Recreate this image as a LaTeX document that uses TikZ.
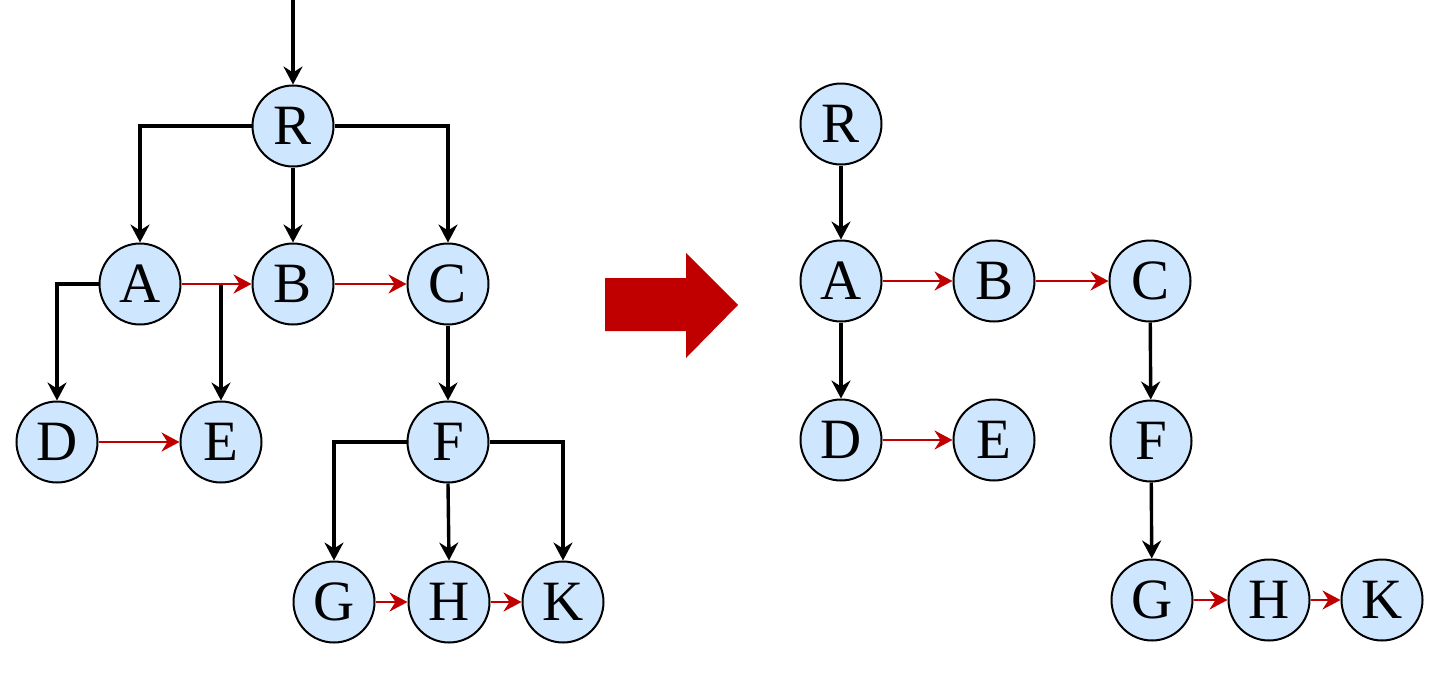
\documentclass[tikz,border=0pt]{standalone}
\usepackage{fontspec}
\setmainfont{Liberation Serif}
\usetikzlibrary{arrows.meta}
\definecolor{nodefill}{RGB}{207,230,255}
\definecolor{linkred}{RGB}{192,0,0}
\tikzset{
  vertex/.style={circle, draw=black, line width=2pt, fill=nodefill,
    minimum size=81pt, inner sep=0pt, font=\fontsize{57}{57}\selectfont},
  child/.style={draw=black, line width=3.4pt,
    -{Stealth[length=18pt, width=19pt, inset=6pt]}},
  sibling/.style={draw=linkred, line width=2.8pt,
    -{Stealth[length=18pt, width=19pt, inset=6pt]}},
  bigarrow/.style={fill=linkred, draw=none}
}
\begin{document}
\begin{tikzpicture}[x=1pt, y=-1pt]
  \useasboundingbox (0,0) rectangle (1438,673);

  % first-child / next-sibling source tree
  \node[vertex] (R)  at (293,126) {R};
  \node[vertex] (A)  at (140,284) {A};
  \node[vertex] (B)  at (293,284) {B};
  \node[vertex] (C)  at (448,284) {C};
  \node[vertex] (D)  at (57,442)  {D};
  \node[vertex] (E)  at (221,442) {E};
  \node[vertex] (F)  at (448,442) {F};
  \node[vertex] (G)  at (334,602) {G};
  \node[vertex] (H)  at (449,602) {H};
  \node[vertex] (K)  at (563,602) {K};
  \coordinate (in) at (293,0);

  \draw[child] (in) -- (R.north);
  \draw[child] (R.west) -| (A.north);
  \draw[child] (R.south) -- (B.north);
  \draw[child] (R.east) -| (C.north);
  \draw[child] (A.west) -| (D.north);
  \draw[child] (A.east -| E.north) -- (E.north);
  \draw[child] (C.south) -- (F.north);
  \draw[child] (F.west) -| (G.north);
  \draw[child] (F.south) -- (H.north);
  \draw[child] (F.east) -| (K.north);
  \draw[sibling] (A) -- (B);
  \draw[sibling] (B) -- (C);
  \draw[sibling] (D) -- (E);
  \draw[sibling] (G) -- (H);
  \draw[sibling] (H) -- (K);

  % transformation arrow
  \fill[bigarrow] (605,278) -- (686,278) -- (686,253) -- (738,305)
    -- (686,358) -- (686,331) -- (605,331) -- cycle;

  % resulting binary tree
  \node[vertex] (R2) at (841,124) {R};
  \node[vertex] (A2) at (841,281) {A};
  \node[vertex] (B2) at (994,281) {B};
  \node[vertex] (C2) at (1150,281) {C};
  \node[vertex] (D2) at (841,440) {D};
  \node[vertex] (E2) at (994,440) {E};
  \node[vertex] (F2) at (1151,441) {F};
  \node[vertex] (G2) at (1152,600) {G};
  \node[vertex] (H2) at (1269,600) {H};
  \node[vertex] (K2) at (1382,600) {K};

  \draw[child] (R2) -- (A2);
  \draw[child] (A2) -- (D2);
  \draw[child] (C2) -- (F2);
  \draw[child] (F2) -- (G2);
  \draw[sibling] (A2) -- (B2);
  \draw[sibling] (B2) -- (C2);
  \draw[sibling] (D2) -- (E2);
  \draw[sibling] (G2) -- (H2);
  \draw[sibling] (H2) -- (K2);
\end{tikzpicture}
\end{document}
